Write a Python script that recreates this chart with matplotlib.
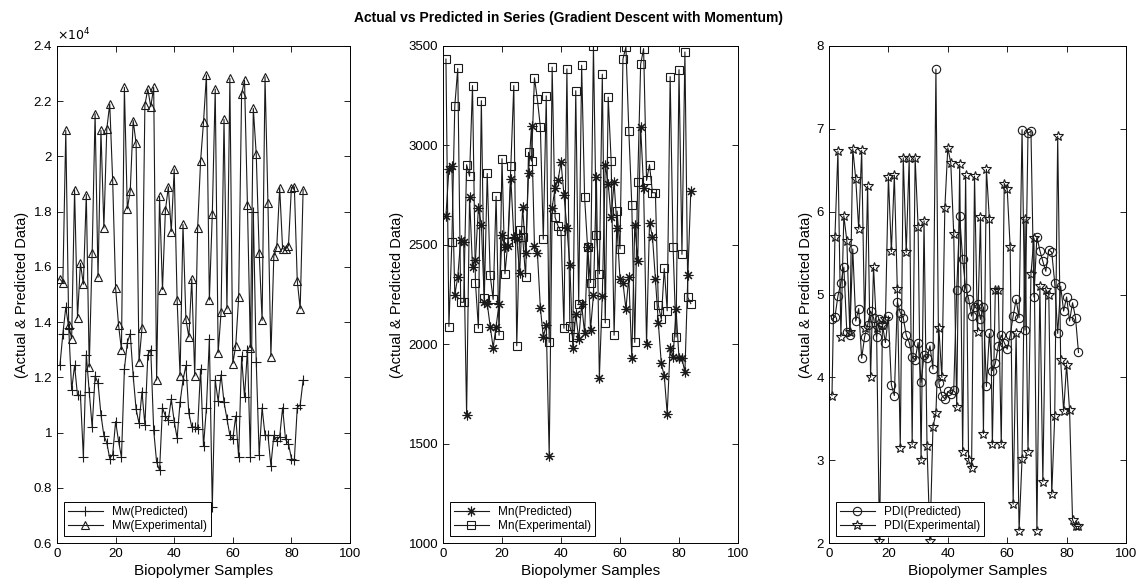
import numpy as np
import matplotlib
matplotlib.use("Agg")
import matplotlib.pyplot as plt

plt.rcParams['font.family'] = ['Liberation Sans', 'DejaVu Sans']

# Mw values in units of 1e4
mw_pred = [1.243, 1.358, 1.454, 1.38, 1.154, 1.243, 1.135, 1.135, 0.912, 1.282,
           1.148, 1.02, 1.205, 1.18, 1.065, 0.989, 0.963, 0.906, 0.92, 1.04,
           0.97, 0.91, 1.23, 1.326, 1.358, 1.205, 1.084, 1.033, 1.148, 1.027,
           1.282, 1.30, 1.008, 0.893, 0.863, 1.09, 1.06, 1.045, 1.122, 1.04,
           0.98, 1.11, 1.19, 1.243, 1.07, 1.02, 1.02, 1.014, 1.23, 0.95,
           1.09, 1.339, 0.73, 1.19, 1.114, 1.21, 1.11, 1.05, 0.99, 0.976,
           1.06, 0.91, 1.276, 1.128, 1.30, 0.912, 1.80, 1.256, 0.92, 1.09,
           0.99, 0.99, 0.88, 0.99, 0.97, 0.985, 1.09, 0.975, 0.96, 0.906,
           0.90, 1.09, 1.10, 1.19]
mw_exp = [1.556, 1.543, 2.094, 1.388, 1.34, 1.88, 1.416, 1.613, 1.537, 1.862,
          1.237, 1.652, 2.155, 1.562, 2.094, 1.741, 2.10, 2.19, 1.913, 1.524,
          1.39, 1.30, 2.25, 1.81, 1.876, 2.13, 2.047, 1.256, 1.377, 2.187,
          2.244, 2.18, 2.25, 1.19, 1.855, 1.518, 1.805, 1.89, 1.728, 1.954,
          1.48, 1.205, 1.754, 1.41, 1.346, 1.556, 1.205, 1.741, 1.983, 2.124,
          2.295, 1.48, 1.79, 2.244, 1.289, 1.435, 2.134, 1.448, 2.283, 1.25,
          1.314, 1.49, 2.225, 2.276, 1.823, 1.307, 2.174, 2.008, 1.652, 1.406,
          2.289, 1.83, 1.275, 1.639, 1.671, 1.887, 1.665, 1.665, 1.677, 1.887,
          1.89, 1.55, 1.448, 1.88]

mn_pred = [2647, 2880, 2898, 2248, 2337, 2526, 2514, 1646, 2739, 2390,
           2425, 2686, 2602, 2213, 2204, 2089, 1983, 2089, 2204, 2549,
           2487, 2496, 2833, 2540, 2531, 2360, 2691, 2461, 2863, 3098,
           2496, 2461, 2183, 2036, 2098, 1440, 2686, 2788, 2824, 2916,
           2753, 2585, 2399, 1983, 2151, 2027, 2200, 2054, 2487, 2071,
           2248, 2841, 1830, 2243, 2903, 2806, 2640, 2815, 2585, 2328,
           2310, 2178, 2337, 1929, 2602, 2417, 3093, 2788, 2000, 2611,
           2540, 2328, 2107, 1903, 1841, 1650, 1983, 1938, 2178, 1929,
           1929, 1859, 2346, 2771]
mn_exp = [3434, 2089, 2514, 3199, 3387, 2211, 2211, 2903, 2845, 3301,
          2310, 2080, 3225, 2230, 2859, 2346, 2225, 2744, 2045, 2933,
          2354, 2514, 2898, 3301, 1992, 2576, 2540, 2337, 2965, 2921,
          3340, 3231, 3093, 2528, 3249, 2009, 3394, 2638, 2594, 2567,
          2080, 3385, 2090, 2036, 3275, 2204, 3403, 2739, 2491, 2310,
          3500, 2549, 2354, 3358, 2107, 3243, 2921, 2045, 2670, 2479,
          3434, 3495, 3071, 2700, 2009, 2815, 3408, 3487, 2824, 2903,
          2762, 2762, 2195, 2125, 2381, 2168, 3346, 2487, 2036, 3381,
          2452, 3470, 2235, 2204]

pdi_pred = [4.70, 4.73, 4.98, 5.14, 5.33, 4.55, 4.51, 5.55, 4.68, 4.83,
            4.23, 4.49, 4.63, 4.80, 4.72, 4.49, 4.70, 4.63, 4.42, 4.74,
            3.91, 3.78, 4.91, 4.78, 4.72, 4.51, 4.42, 4.25, 4.21, 4.42,
            3.94, 4.27, 4.23, 4.38, 4.10, 7.72, 3.93, 3.78, 3.74, 3.83,
            3.80, 3.85, 5.06, 5.95, 5.43, 5.08, 4.95, 4.74, 4.85, 4.89,
            4.70, 4.85, 3.89, 4.53, 4.08, 4.17, 4.38, 4.51, 4.42, 4.34,
            4.51, 4.74, 4.94, 4.72, 6.99, 4.57, 6.95, 6.97, 4.97, 5.70,
            5.53, 5.40, 5.28, 5.54, 5.51, 5.14, 4.53, 5.10, 4.80, 4.97,
            4.68, 4.90, 4.72, 4.30]
pdi_exp = [3.78, 5.70, 6.73, 4.49, 5.95, 5.65, 4.55, 6.76, 6.40, 5.79,
           6.74, 4.60, 6.31, 4.00, 5.33, 4.60, 2.02, 4.63, 4.70, 6.42,
           5.52, 6.44, 5.07, 3.15, 6.65, 5.51, 6.65, 3.19, 6.65, 5.82,
           3.00, 5.89, 3.17, 2.03, 3.40, 3.57, 4.59, 4.00, 6.04, 6.77,
           6.59, 5.73, 3.64, 6.57, 3.10, 6.44, 3.00, 2.90, 6.43, 4.55,
           5.93, 3.32, 6.51, 5.91, 3.19, 5.06, 5.06, 3.19, 6.34, 6.27,
           5.57, 2.47, 4.53, 2.15, 3.02, 5.91, 3.10, 5.25, 5.68, 2.15,
           5.10, 2.74, 5.06, 5.00, 2.59, 3.53, 6.91, 4.21, 3.59, 4.15,
           3.60, 2.28, 2.20, 2.20]

fig = plt.figure(figsize=(11.37, 5.87), dpi=100)
W, H = 1137.0, 587.0
top, bot = 46, 543
lefts = [(57, 350), (443, 738), (829, 1126)]

panels = [
    (mw_pred, mw_exp, '+', '^', 'Mw', (0.6, 2.4), np.arange(0.6, 2.41, 0.2)),
    (mn_pred, mn_exp, (8, 2, 0), 's', 'Mn', (1000, 3500), np.arange(1000, 3501, 500)),
    (pdi_pred, pdi_exp, 'o', '*', 'PDI', (2, 8), np.arange(2, 9, 1)),
]

for (l, r), (pred, exp, m1, m2, name, ylim, yt) in zip(lefts, panels):
    ax = fig.add_axes([l / W, 1 - bot / H, (r - l) / W, (bot - top) / H])
    x1 = np.arange(1, len(pred) + 1)
    x2 = np.arange(1, len(exp) + 1)
    ax.plot(x1, pred, color='#1a1a1a', lw=0.8, marker=m1, ms=7 if m1 != 'o' else 6,
            mfc='none', mec='#1a1a1a', mew=0.8, label=name + '(Predicted)')
    ax.plot(x2, exp, color='#1a1a1a', lw=0.8, marker=m2, ms=6 if m2 != '*' else 7,
            mfc='none', mec='#1a1a1a', mew=0.8, label=name + '(Experimental)')
    ax.set_xlim(0, 100)
    ax.set_ylim(*ylim)
    ax.set_xticks(range(0, 101, 20))
    ax.set_yticks(yt)
    if name == 'Mw':
        ax.set_yticklabels(['%g' % round(v, 1) for v in yt])
        ax.text(0.0, 1.005, r'$\times10^4$', transform=ax.transAxes,
                fontsize=9, ha='left', va='bottom')
    ax.tick_params(direction='in', top=True, right=True, labelsize=9.5,
                   length=4, width=0.6)
    for sp in ax.spines.values():
        sp.set_linewidth(0.7)
    ax.set_xlabel('Biopolymer Samples', fontsize=11, labelpad=3)
    ax.set_ylabel('(Actual & Predicted Data)', fontsize=10.5, labelpad=3)
    leg = ax.legend(loc='lower left', fontsize=8.5, fancybox=False,
                    edgecolor='k', framealpha=1, borderaxespad=0.6,
                    handlelength=3, borderpad=0.3, labelspacing=0.2)
    leg.get_frame().set_linewidth(0.7)

fig.text(0.5, 1 - 18 / H, 'Actual vs Predicted in Series (Gradient Descent with Momentum)',
         ha='center', va='center', fontsize=10, fontweight='bold')

fig.savefig('out.png', dpi=100)
